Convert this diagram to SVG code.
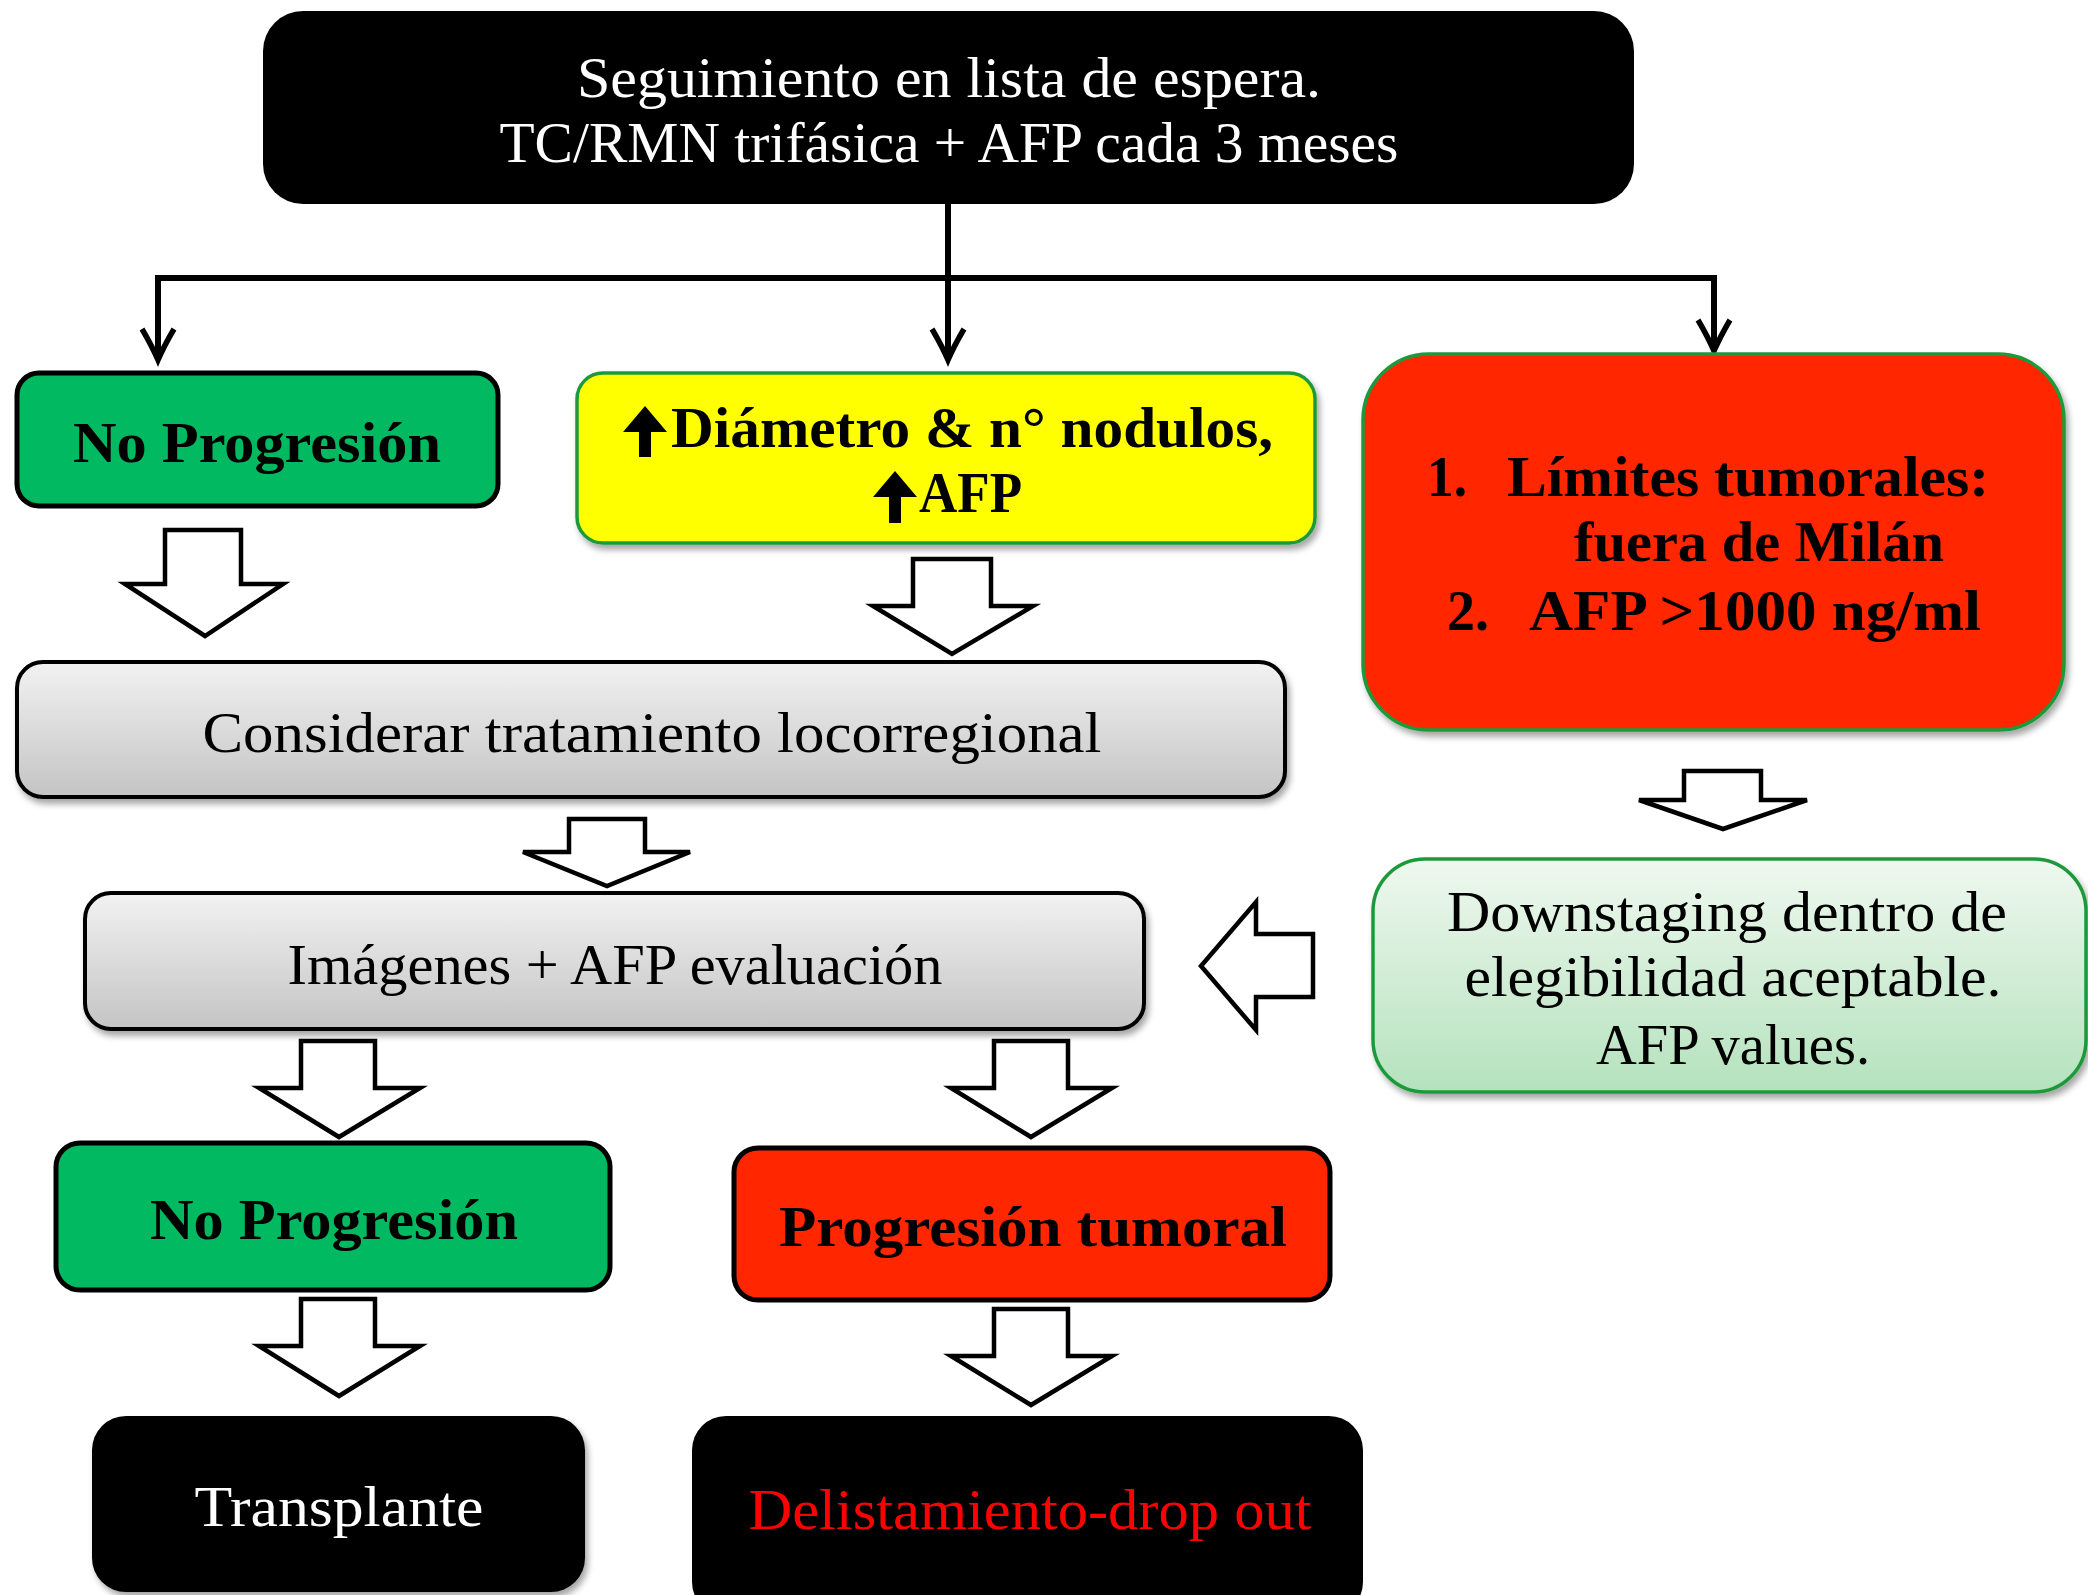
<svg xmlns="http://www.w3.org/2000/svg" width="2088" height="1595" viewBox="0 0 2088 1595">
<style>
.t{font-family:"Liberation Serif","DejaVu Serif",serif;font-size:56px;}
.b{font-weight:bold;}
.w{fill:#ffffff;}
.k{fill:#000000;}
.hollow{fill:#ffffff;stroke:#000000;stroke-width:4.5;stroke-linejoin:miter;}
.conn{fill:none;stroke:#000000;stroke-width:6;}
</style>
<defs>
<linearGradient id="gray" x1="0" y1="0" x2="0" y2="1">
<stop offset="0" stop-color="#f2f2f2"/>
<stop offset="1" stop-color="#c4c4c4"/>
</linearGradient>
<linearGradient id="lgreen" x1="0" y1="0" x2="0" y2="1">
<stop offset="0" stop-color="#eff8ef"/>
<stop offset="1" stop-color="#b4e2bd"/>
</linearGradient>
<filter id="sh" x="-5%" y="-5%" width="115%" height="125%">
<feDropShadow dx="3" dy="5" stdDeviation="3" flood-color="#000" flood-opacity="0.35"/>
</filter>
<marker id="vee" markerUnits="userSpaceOnUse" markerWidth="44" markerHeight="44" viewBox="-36 -22 44 44" refX="0" refY="0" orient="auto">
<path d="M -31 -16 Q -14 -6 0 0 Q -14 6 -31 16" fill="none" stroke="#000" stroke-width="5.5"/>
</marker>
</defs>

<g id="connectors">
<line class="conn" x1="948" y1="204" x2="948" y2="360" marker-end="url(#vee)"/>
<path class="conn" d="M948 278 L158 278 L158 360" marker-end="url(#vee)"/>
<path class="conn" d="M948 278 L1714 278 L1714 351" marker-end="url(#vee)"/>
</g>

<g id="hollow-arrows">
<polygon class="hollow" points="165,530 241,530 241,584 283,584 205,636 125,584 165,584"/>
<polygon class="hollow" points="913,559 991,559 991,606 1033,606 952,654 873,606 913,606"/>
<polygon class="hollow" points="569,819 645,819 645,852 690,852 607,886 523,852 569,852"/>
<polygon class="hollow" points="1684,771 1761,771 1761,800 1807,800 1723,829 1639,800 1684,800"/>
<polygon class="hollow" points="1313,934 1313,997 1256,997 1256,1030 1201,966 1256,902 1256,934"/>
<polygon class="hollow" points="301,1041 375,1041 375,1088 420,1088 339,1137 259,1088 301,1088"/>
<polygon class="hollow" points="994,1041 1068,1041 1068,1088 1112,1088 1031,1137 951,1088 994,1088"/>
<polygon class="hollow" points="301,1299 375,1299 375,1346 420,1346 339,1396 259,1346 301,1346"/>
<polygon class="hollow" points="994,1309 1068,1309 1068,1356 1112,1356 1031,1405 951,1356 994,1356"/>
</g>

<g id="n-top">
<rect x="263" y="11" width="1371" height="193" rx="40" ry="40" fill="#000"/>
<text class="t w" x="949" y="97" text-anchor="middle" textLength="744" lengthAdjust="spacingAndGlyphs">Seguimiento en lista de espera.</text>
<text class="t w" x="949" y="162" text-anchor="middle" textLength="899" lengthAdjust="spacingAndGlyphs">TC/RMN trifásica + AFP cada 3 meses</text>
</g>

<g id="n-noprog1">
<rect x="17" y="373" width="481" height="133" rx="22" ry="22" fill="#00b960" stroke="#000" stroke-width="5"/>
<text class="t b k" x="257" y="462" text-anchor="middle" textLength="368" lengthAdjust="spacingAndGlyphs">No Progresión</text>
</g>

<g id="n-yellow" filter="url(#sh)">
<rect x="577" y="373" width="738" height="170" rx="26" ry="26" fill="#ffff00" stroke="#1f9a3a" stroke-width="3.5"/>
<path d="M623 432 L645 406 L667 432 L651 432 L651 457 L639 457 L639 432 Z" fill="#000"/>
<text class="t b k" x="671" y="447" textLength="602" lengthAdjust="spacingAndGlyphs">Diámetro &amp; n° nodulos,</text>
<path d="M873 497 L895 471 L917 497 L901 497 L901 523 L889 523 L889 497 Z" fill="#000"/>
<text class="t b k" x="919" y="512" textLength="103" lengthAdjust="spacingAndGlyphs">AFP</text>
</g>

<g id="n-red" filter="url(#sh)">
<rect x="1363" y="354" width="701" height="376" rx="66" ry="66" fill="#ff2600" stroke="#1f9a3a" stroke-width="3.5"/>
<text class="t b k" x="1427" y="496" textLength="40" lengthAdjust="spacingAndGlyphs">1.</text>
<text class="t b k" x="1507" y="496" textLength="482" lengthAdjust="spacingAndGlyphs">Límites tumorales:</text>
<text class="t b k" x="1574" y="561" textLength="370" lengthAdjust="spacingAndGlyphs">fuera de Milán</text>
<text class="t b k" x="1447" y="630" textLength="42" lengthAdjust="spacingAndGlyphs">2.</text>
<text class="t b k" x="1529" y="630" textLength="452" lengthAdjust="spacingAndGlyphs">AFP &gt;1000 ng/ml</text>
</g>

<g id="n-considerar" filter="url(#sh)">
<rect x="17" y="662" width="1268" height="135" rx="26" ry="26" fill="url(#gray)" stroke="#000" stroke-width="4"/>
<text class="t k" x="652" y="752" text-anchor="middle" textLength="899" lengthAdjust="spacingAndGlyphs">Considerar tratamiento locorregional</text>
</g>

<g id="n-imagenes" filter="url(#sh)">
<rect x="85" y="893" width="1059" height="136" rx="26" ry="26" fill="url(#gray)" stroke="#000" stroke-width="4"/>
<text class="t k" x="615" y="984" text-anchor="middle" textLength="655" lengthAdjust="spacingAndGlyphs">Imágenes + AFP evaluación</text>
</g>

<g id="n-downstaging" filter="url(#sh)">
<rect x="1373" y="859" width="713" height="233" rx="52" ry="52" fill="url(#lgreen)" stroke="#1f9a3a" stroke-width="3.5"/>
<text class="t k" x="1727" y="931" text-anchor="middle" textLength="560" lengthAdjust="spacingAndGlyphs">Downstaging dentro de</text>
<text class="t k" x="1733" y="996" text-anchor="middle" textLength="537" lengthAdjust="spacingAndGlyphs">elegibilidad aceptable.</text>
<text class="t k" x="1733" y="1064" text-anchor="middle" textLength="274" lengthAdjust="spacingAndGlyphs">AFP values.</text>
</g>

<g id="n-noprog2">
<rect x="56" y="1143" width="554" height="147" rx="24" ry="24" fill="#00b960" stroke="#000" stroke-width="5"/>
<text class="t b k" x="334" y="1239" text-anchor="middle" textLength="368" lengthAdjust="spacingAndGlyphs">No Progresión</text>
</g>

<g id="n-progtumoral">
<rect x="734" y="1148" width="596" height="152" rx="24" ry="24" fill="#ff2600" stroke="#000" stroke-width="5"/>
<text class="t b k" x="1033" y="1246" text-anchor="middle" textLength="508" lengthAdjust="spacingAndGlyphs">Progresión tumoral</text>
</g>

<g id="n-transplante" filter="url(#sh)">
<rect x="92" y="1416" width="493" height="176" rx="34" ry="34" fill="#000"/>
<text class="t w" x="339" y="1526" text-anchor="middle" textLength="289" lengthAdjust="spacingAndGlyphs">Transplante</text>
</g>

<g id="n-delist">
<rect x="692" y="1416" width="671" height="200" rx="34" ry="34" fill="#000"/>
<text class="t" x="1030" y="1529" text-anchor="middle" fill="#ff0000" textLength="563" lengthAdjust="spacingAndGlyphs">Delistamiento-drop out</text>
</g>
</svg>
